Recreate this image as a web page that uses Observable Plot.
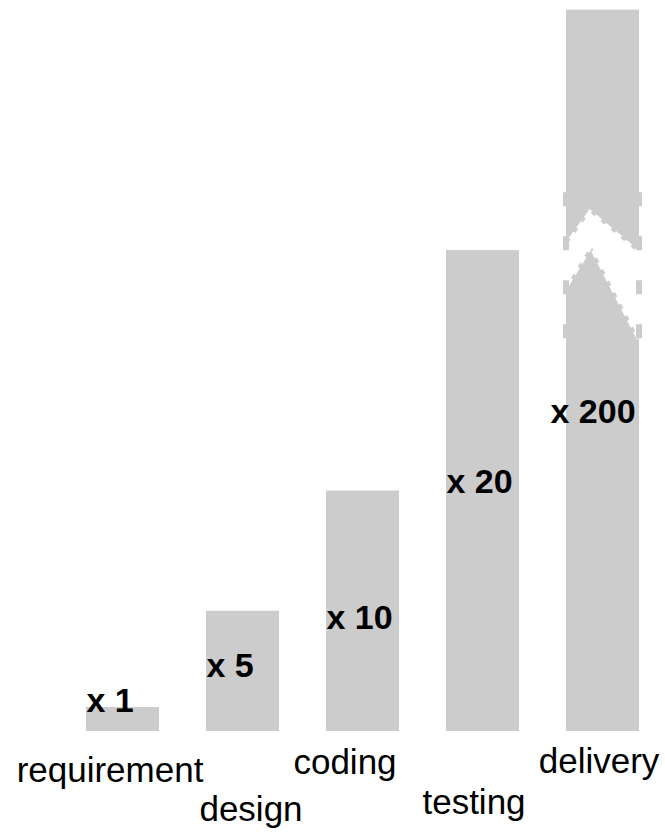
<!DOCTYPE html>
<html>
<head>
<meta charset="utf-8">
<script src="https://cdn.jsdelivr.net/npm/d3@7"></script>
<script src="https://cdn.jsdelivr.net/npm/@observablehq/plot@0.6"></script>
<style>
  body { margin: 0; background: #ffffff; }
  #chart svg { display: block; }
</style>
</head>
<body>
<div id="chart"></div>
<script>
// ---- data ----
const categories = ["requirement", "design", "coding", "testing", "delivery"];
const multipliers = [1, 5, 10, 20, 200];
const valueLabels = ["x 1", "x 5", "x 10", "x 20", "x 200"];
const axisCap = 30; // the delivery bar is drawn broken at this height

// ---- layout (label anchors, offsets) ----
const labelAt = [0.83, 2.25, 4.28, 9.9, 12.85];
const labelDx = [-36.5, -36.5, -36.5, -36.5, -52.5];
const catDx = [-13, 8, -18, -9, -4];
const catDy = [50, 89, 42, 82, 41];
const breakTop = [[-0.04, 20.0], [0.33, 21.56], [1.04, 19.75]];
const breakBottom = [[1.04, 16.1], [0.34, 20.2], [-0.04, 18.3]];

const rows = categories.map((c, i) => ({
  category: c,
  value: multipliers[i],
  shown: Math.min(multipliers[i], axisCap),
  label: valueLabels[i]
}));

const barColor = "#cccccc";

const plot = Plot.plot({
  width: 665,
  height: 839,
  marginTop: 0,
  marginBottom: 108,
  marginLeft: 62,
  marginRight: 2,
  style: { fontFamily: "'Liberation Sans', Arial, Helvetica, sans-serif", background: "#ffffff", color: "black" },
  x: { domain: categories, paddingInner: 0.392, paddingOuter: 0.2, axis: null },
  y: { domain: [0, 30.4], axis: null },
  marks: [
    Plot.barY(rows, { x: "category", y: "shown", fill: barColor }),
    ...rows.map((r, i) => Plot.text([r], {
      x: "category", y: () => labelAt[i], text: "label",
      dx: labelDx[i], textAnchor: "start", lineAnchor: "bottom",
      fontWeight: "bold", fontSize: 34, fill: "black"
    })),
    ...rows.map((r, i) => Plot.text([r], {
      x: "category", y: () => 0, text: "category",
      dx: catDx[i], dy: catDy[i], lineAnchor: "bottom",
      fontSize: 35, fill: "black"
    }))
  ]
});

document.getElementById("chart").appendChild(plot);

// ---- axis break on the delivery bar, drawn through the plot's own scales ----
const xs = plot.scale("x"), ys = plot.scale("y");
const x0 = xs.apply("delivery"), bw = xs.bandwidth;
const pt = ([f, v]) => [x0 + f * bw, ys.apply(v)];
const poly = breakTop.concat(breakBottom).map(pt);
const g = d3.select(plot).append("g").attr("class", "axis-break");
g.append("polygon")
  .attr("points", poly.map(p => p.join(",")).join(" "))
  .attr("fill", "white")
  .attr("stroke", "white")
  .attr("stroke-width", 5)
  .attr("stroke-dasharray", "8,5");
[x0, x0 + bw].forEach(xx => {
  g.append("line")
    .attr("x1", xx).attr("x2", xx)
    .attr("y1", ys.apply(22.4)).attr("y2", ys.apply(15.6))
    .attr("stroke", barColor)
    .attr("stroke-width", 6)
    .attr("stroke-dasharray", "14,30");
});
</script>
</body>
</html>
